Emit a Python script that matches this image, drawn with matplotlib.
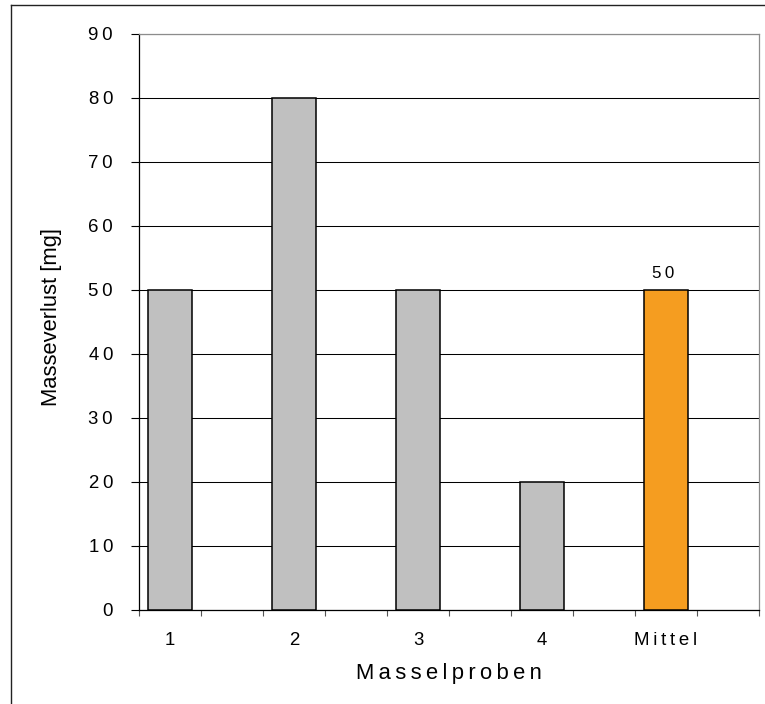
import matplotlib
matplotlib.use("Agg")
import matplotlib.pyplot as plt
from matplotlib.lines import Line2D

plt.rcParams['font.family'] = ['Liberation Sans', 'DejaVu Sans']

# Data
categories = ["1", "2", "3", "4", "Mittel"]
mass_loss = [50, 80, 50, 20, 50]
bar_colors = ["#C0C0C0", "#C0C0C0", "#C0C0C0", "#C0C0C0", "#F59D20"]
y_ticks = [0, 10, 20, 30, 40, 50, 60, 70, 80, 90]
annotated_value = mass_loss[-1]

THIN = "\u2009"

def spaced(s):
    return THIN.join(list(s))

W, H = 765, 704
fig = plt.figure(figsize=(W / 100, H / 100), dpi=100)
ax = fig.add_axes([138.5 / W, 1 - 610 / H, 620 / W, 576 / H])

offset = 0.254
width = 0.355
xs = [i + offset for i in range(len(categories))]
ax.bar(xs, mass_loss, width=width, color=bar_colors, edgecolor="black",
       linewidth=1.1, zorder=3)

ax.set_xlim(0, len(categories))
ax.set_ylim(0, 90)

# y axis
ax.set_yticks(y_ticks)
ax.set_yticklabels([spaced(str(v)) for v in y_ticks], fontsize=13.4)
ax.tick_params(axis="y", direction="out", length=5.8, width=0.8,
               color="black", pad=12.5)
ax.yaxis.grid(True, color="black", linewidth=0.75, zorder=0)
ax.set_axisbelow(True)

# x axis: separators every half category, labels under bars
ax.set_xticks([i * 0.5 for i in range(2 * len(categories) + 1)])
ax.set_xticklabels([])
ax.tick_params(axis="x", which="major", direction="out", length=4.3,
               width=0.8, color="#555555")
ax.set_xticks(xs, minor=True)
ax.set_xticklabels([spaced(c) for c in categories], minor=True, fontsize=13.4)
ax.tick_params(axis="x", which="minor", length=0, pad=15.5)

for side in ("left", "bottom"):
    ax.spines[side].set_color("black")
    ax.spines[side].set_linewidth(0.9)
for side in ("top", "right"):
    ax.spines[side].set_color("#8c8c8c")
    ax.spines[side].set_linewidth(0.9)

# value label above the mean bar
ax.text(xs[-1] - 0.02, annotated_value + 1.35, spaced(str(annotated_value)),
        ha="center", va="bottom", fontsize=12.2)

fig.text(448.5 / W, 1 - 673 / H, spaced("Masselproben"), ha="center",
         va="center", fontsize=15.8)
fig.text(52 / W, 1 - 316.5 / H, "Masseverlust [mg]", ha="center",
         va="center", rotation=90, fontsize=15.8)

# outer chart frame
fig.add_artist(Line2D([10.5 / W, 10.5 / W], [1 - 4.5 / H, 0],
                      transform=fig.transFigure, color="#222222", lw=1))
fig.add_artist(Line2D([10.5 / W, 1], [1 - 4.5 / H, 1 - 4.5 / H],
                      transform=fig.transFigure, color="#222222", lw=1))

fig.savefig("out.png", dpi=100, facecolor="white")
